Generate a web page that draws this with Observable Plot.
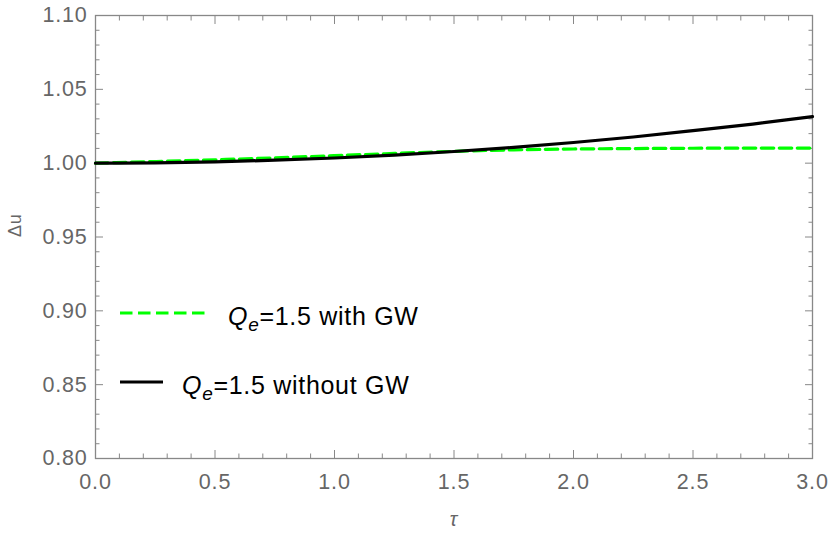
<!DOCTYPE html>
<html>
<head>
<meta charset="utf-8">
<script src="https://cdn.jsdelivr.net/npm/d3@7"></script>
<script src="https://cdn.jsdelivr.net/npm/@observablehq/plot@0.6"></script>
<style>
  html, body { margin: 0; padding: 0; background: #fff; }
  #wrap { position: relative; width: 830px; height: 542px; font-family: "Liberation Sans", Arial, sans-serif; }
  .leg { position: absolute; height: 30px; display: flex; align-items: center; font-size: 25px; letter-spacing: 0.7px; color: #000; white-space: nowrap; }
  .leg i { font-style: italic; }
  .leg sub { font-size: 19px; vertical-align: -6px; line-height: 0; }
  #wrap svg text { letter-spacing: 0.8px; }
</style>
</head>
<body>
<div id="wrap"></div>
<script>
// τ sample positions
const tau = [0, 0.25, 0.5, 0.75, 1.0, 1.25, 1.5, 1.75, 2.0, 2.25, 2.5, 2.75, 3.0];
// Q_e = 1.5 with GW (green dashed)
const withGW = [1.000, 1.0011, 1.0023, 1.0036, 1.0051, 1.0066, 1.0080, 1.0090, 1.0096, 1.0099, 1.0101, 1.0102, 1.0102];
// Q_e = 1.5 without GW (black solid)
const withoutGW = [1.000, 1.0002, 1.0009, 1.0020, 1.0035, 1.0055, 1.0079, 1.0107, 1.0140, 1.0177, 1.0220, 1.0265, 1.0315];

const xTicks = [0, 0.5, 1.0, 1.5, 2.0, 2.5, 3.0];
const yTicks = [0.80, 0.85, 0.90, 0.95, 1.00, 1.05, 1.10];
const xMinor = d3.range(0, 3.0001, 0.1).filter(v => Math.abs(v * 2 - Math.round(v * 2)) > 1e-6);
const yMinor = d3.range(0.80, 1.1001, 0.01).filter(v => Math.abs(v * 20 - Math.round(v * 20)) > 1e-6);

const legendLabels = ["with GW", "without GW"];

const dataWith = tau.map((t, i) => ({t, v: withGW[i]}));
const dataWithout = tau.map((t, i) => ({t, v: withoutGW[i]}));

const tickColor = "#888";
const textColor = "#666";

const chart = Plot.plot({
  width: 830,
  height: 542,
  marginLeft: 95,
  marginRight: 18,
  marginTop: 15,
  marginBottom: 84,
  style: {fontFamily: "'Liberation Sans', Arial, sans-serif", fontSize: "20px", color: textColor, background: "#fff"},
  x: {domain: [0, 3]},
  y: {domain: [0.8, 1.1]},
  marks: [
    // tick marks (inward) on all four sides
    Plot.axisX({anchor: "bottom", ticks: xTicks, tickSize: -8, text: null, stroke: tickColor, label: null}),
    Plot.axisX({anchor: "bottom", ticks: xMinor, tickSize: -4.5, text: null, stroke: tickColor, label: null}),
    Plot.axisX({anchor: "top", ticks: xTicks, tickSize: -8, text: null, stroke: tickColor, label: null}),
    Plot.axisX({anchor: "top", ticks: xMinor, tickSize: -4.5, text: null, stroke: tickColor, label: null}),
    Plot.axisY({anchor: "left", ticks: yTicks, tickSize: -8, text: null, stroke: tickColor, label: null}),
    Plot.axisY({anchor: "left", ticks: yMinor, tickSize: -4.5, text: null, stroke: tickColor, label: null}),
    Plot.axisY({anchor: "right", ticks: yTicks, tickSize: -8, text: null, stroke: tickColor, label: null}),
    Plot.axisY({anchor: "right", ticks: yMinor, tickSize: -4.5, text: null, stroke: tickColor, label: null}),
    // tick labels
    Plot.axisX({anchor: "bottom", ticks: xTicks, tickSize: 0, tickPadding: 15, tickFormat: d3.format(".1f"), fill: textColor, fontSize: 21.5, label: null}),
    Plot.axisY({anchor: "left", ticks: yTicks, tickSize: 0, tickPadding: 8, tickFormat: d3.format(".2f"), fill: textColor, fontSize: 21.5, label: null}),
    Plot.frame({stroke: tickColor, strokeWidth: 1.3}),
    // curves
    Plot.line(dataWith, {x: "t", y: "v", stroke: "#00ff00", strokeWidth: 3.2, strokeDasharray: "12.5,5.5", curve: "natural"}),
    Plot.line(dataWithout, {x: "t", y: "v", stroke: "#000", strokeWidth: 3.2, curve: "natural"}),
    // axis titles
    Plot.text(["Δu"], {frameAnchor: "left", dx: -80, dy: 0, rotate: -90, fill: textColor, fontSize: 18}),
    Plot.text(["τ"], {frameAnchor: "bottom", dy: 67, fill: textColor, fontSize: 20, fontStyle: "italic"})
  ]
});

const wrap = document.getElementById("wrap");
wrap.appendChild(chart);

function addLegend(top, left, lineLen, gap, color, dash, label) {
  const d = document.createElement("div");
  d.className = "leg";
  d.style.top = top + "px";
  d.style.left = left + "px";
  const dashAttr = dash ? `stroke-dasharray="${dash}"` : "";
  d.innerHTML = `<svg width="${lineLen}" height="30" style="margin-right:${gap}px;flex:none"><line x1="0" y1="15" x2="${lineLen}" y2="15" stroke="${color}" stroke-width="3.2" ${dashAttr}/></svg><span style="position:relative;top:3px"><i>Q</i><sub><i>e</i></sub>=1.5 ${label}</span>`;
  wrap.appendChild(d);
}
addLegend(298, 120, 87, 21, "#00ff00", "12.5,5.5", legendLabels[0]);
addLegend(367, 120, 43, 19, "#000", null, legendLabels[1]);
</script>
</body>
</html>
